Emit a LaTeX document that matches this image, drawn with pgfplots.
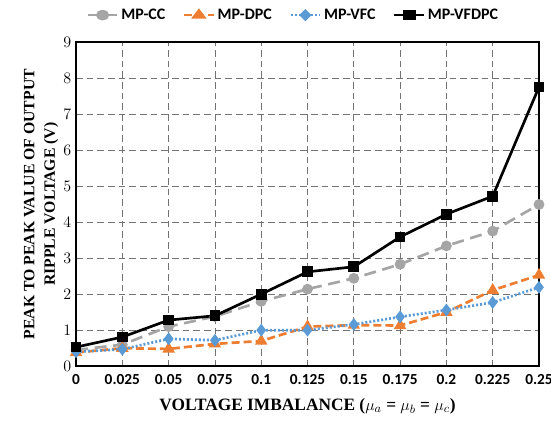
\documentclass[border=0pt]{standalone}
\usepackage{pgfplots}
\pgfplotsset{compat=1.18}
\usepackage{fontspec}
\setmainfont{Liberation Serif}
\newfontfamily\calib{Carlito}
\definecolor{ccgray}{RGB}{165,165,165}
\definecolor{dpcorange}{RGB}{237,125,49}
\definecolor{vfcblue}{RGB}{91,155,213}
\begin{document}
\begin{tikzpicture}
\begin{axis}[
  scale only axis,
  width=347pt, height=243pt,
  xmin=0, xmax=10, ymin=0, ymax=9,
  xtick={0,...,10},
  xticklabels={0,0.025,0.05,0.075,0.1,0.125,0.15,0.175,0.2,0.225,0.25},
  ytick={0,...,9},
  tick style={draw=none},
  ticklabel style={font=\calib\bfseries\fontsize{11.5}{13}\selectfont},
  xticklabel style={yshift=-3pt},
  grid=major,
  major grid style={dash pattern=on 5pt off 3pt, draw=black!55, line width=0.6pt},
  axis line style={line width=1.2pt},
  xlabel={\bfseries VOLTAGE IMBALANCE ($\mu_a$ = $\mu_b$ = $\mu_c$)},
  ylabel={\bfseries PEAK TO PEAK VALUE OF OUTPUT\\\bfseries RIPPLE VOLTAGE (V)},
  ylabel style={align=center, font=\fontsize{11.8}{15.5}\selectfont, yshift=-3pt},
  xlabel style={font=\fontsize{13}{15}\selectfont, yshift=-3pt},
  legend style={at={(0.47,1.083)}, anchor=center, draw=none, legend columns=-1,
    font=\calib\bfseries\fontsize{12}{14}\selectfont,
    /tikz/every even column/.append style={column sep=11pt}},
  legend cell align=left,
  legend image post style={xscale=1.3},
]
\coordinate (sw) at (rel axis cs:0,0);
\coordinate (ne) at (rel axis cs:1,1);
\addplot[color=ccgray, line width=2pt, dash pattern=on 9pt off 5pt, mark=*, mark size=3pt, mark options={solid}]
  coordinates {(0,0.45) (1,0.6) (2,1.1) (3,1.38) (4,1.8) (5,2.14) (6,2.44) (7,2.83) (8,3.34) (9,3.75) (10,4.49)};
\addplot[color=dpcorange, line width=2pt, dash pattern=on 6pt off 3pt, mark=triangle*, mark size=3.4pt, mark options={solid}]
  coordinates {(0,0.38) (1,0.5) (2,0.48) (3,0.62) (4,0.7) (5,1.1) (6,1.14) (7,1.13) (8,1.5) (9,2.11) (10,2.53)};
\addplot[color=vfcblue, line width=2pt, dash pattern=on 1.5pt off 1.5pt, mark=diamond*, mark size=3.2pt, mark options={solid}]
  coordinates {(0,0.4) (1,0.47) (2,0.76) (3,0.72) (4,1.0) (5,1.0) (6,1.16) (7,1.37) (8,1.56) (9,1.77) (10,2.19)};
\addplot[color=black, line width=2pt, mark=square*, mark size=3pt]
  coordinates {(0,0.53) (1,0.81) (2,1.28) (3,1.4) (4,2.0) (5,2.62) (6,2.76) (7,3.59) (8,4.22) (9,4.72) (10,7.75)};
\legend{MP-CC, MP-DPC, MP-VFC, MP-VFDPC}
\end{axis}
\pgfresetboundingbox
\path[use as bounding box] ([shift={(-57pt,-42pt)}]sw) rectangle ([shift={(9pt,31.5pt)}]ne);
\end{tikzpicture}
\end{document}
